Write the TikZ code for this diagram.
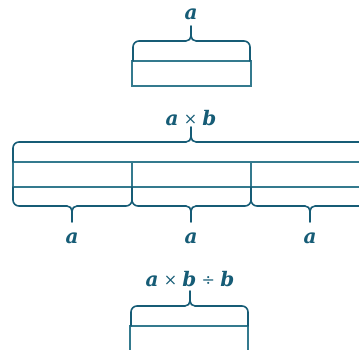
\documentclass[tikz,border=0pt]{standalone}
\usepackage{fontspec}
\setmainfont{DejaVu Serif}
\usepackage{xcolor}

\definecolor{braceteal}{RGB}{22,92,118}
\definecolor{boxteal}{RGB}{52,122,142}

\tikzset{
  brace/.style={draw=braceteal, line width=1.6pt, line join=round, line cap=round},
  cell/.style={draw=boxteal, line width=1.2pt},
  lbl/.style={text=braceteal, font=\fontsize{20}{23}\selectfont\bfseries\itshape, inner sep=0pt}
}

% operator sign, set smaller and upright
\newcommand{\opsign}[1]{\hspace{0.26em}\raisebox{1.2pt}{\fontsize{16}{16}\selectfont\mdseries\upshape #1}\hspace{0.26em}}

% brace opening downwards: x1, x2, ybase, xmid
\newcommand{\topbrace}[4]{
  \draw[brace] (#1,#3) -- (#1,#3-14) to[out=90,in=180] (#1+6,#3-20)
    -- (#4-5,#3-20) to[out=0,in=270] (#4,#3-25) -- (#4,#3-35);
  \draw[brace] (#4,#3-25) to[out=270,in=180] (#4+5,#3-20)
    -- (#2-6,#3-20) to[out=0,in=90] (#2,#3-14) -- (#2,#3);
}
% brace opening upwards: x1, x2, ybase, xmid
\newcommand{\botbrace}[4]{
  \draw[brace] (#1,#3) -- (#1,#3+13) to[out=270,in=180] (#1+6,#3+19)
    -- (#4-5,#3+19) to[out=0,in=90] (#4,#3+24) -- (#4,#3+35);
  \draw[brace] (#4,#3+24) to[out=90,in=180] (#4+5,#3+19)
    -- (#2-6,#3+19) to[out=0,in=270] (#2,#3+13) -- (#2,#3);
}

\begin{document}
\begin{tikzpicture}[x=1pt,y=-1pt]
\useasboundingbox (0,0) rectangle (359,350);
\clip (0,0) rectangle (359,350);

% one a
\node[lbl] (la) at (191,14) {a};
\draw[cell] (132,61) rectangle (251,86);
\topbrace{133}{250}{61}{191}

% a times b
\node[lbl] (lab) at (191,118) {a\opsign{×}b};
\draw[cell] (13,162) rectangle (370,187);
\foreach \x in {132,251}
  \draw[cell] (\x,162) -- (\x,187);
\topbrace{13}{370}{162}{191}
\foreach \x/\name in {13/one,132/two,251/three}{
  \botbrace{\x}{\x+119}{187}{\x+59}
  \node[lbl] (a\name) at (\x+59,238) {a};
}

% a times b divided by b
\node[lbl] (labb) at (190,279) {a\opsign{×}b\opsign{÷}b};
\draw[cell] (130,326) rectangle (248,360);
\topbrace{131}{248}{326}{190}

\end{tikzpicture}
\end{document}
